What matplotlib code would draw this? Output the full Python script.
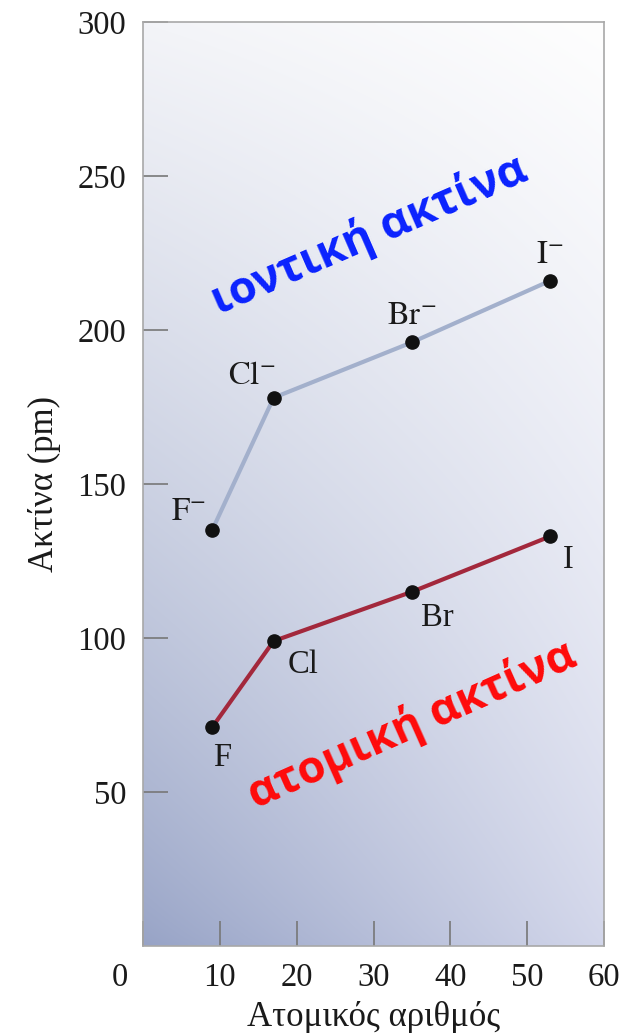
import numpy as np
import matplotlib
matplotlib.use("Agg")
import matplotlib.pyplot as plt
from matplotlib.transforms import ScaledTranslation

# Halogens: atomic number, ionic radius (X-) and atomic radius (X), in pm
atomic_number = [9, 17, 35, 53]
ionic_radius = [135, 178, 196, 216]
atomic_radius = [71, 99, 115, 133]
ion_labels = ["F", "Cl", "Br", "I"]
atom_labels = ["F", "Cl", "Br", "I"]

x_ticks = [0, 10, 20, 30, 40, 50, 60]
y_ticks = [50, 100, 150, 200, 250, 300]

plt.rcParams["font.family"] = ["Liberation Serif", "DejaVu Serif"]
plt.rcParams["mathtext.fontset"] = "stix"

fig = plt.figure(figsize=(6.25, 10.33), dpi=100)
ax = fig.add_axes([143 / 625, 87 / 1033, 461 / 625, 924 / 1033])

# Diagonal shaded background (light top-right, bluish bottom-left)
tl = np.array([0xF3, 0xF4, 0xF8]) / 255
tr = np.array([0xFE, 0xFE, 0xFE]) / 255
bl = np.array([0x97, 0xA3, 0xC6]) / 255
br = np.array([0xD2, 0xD6, 0xEA]) / 255
n = 256
u = np.linspace(0, 1, n)[None, :, None]
v = np.linspace(0, 1, n)[:, None, None] ** 0.8  # 0 at bottom
bottom = bl * (1 - u) + br * u
top = tl * (1 - u) + tr * u
grad = bottom * (1 - v) + top * v
ax.imshow(grad, extent=[0, 1, 0, 1], transform=ax.transAxes, origin="lower",
          aspect="auto", zorder=0, interpolation="bicubic")

ion_color = "#a3b0cc"
atom_color = "#a3283c"

ax.plot(atomic_number, ionic_radius, color=ion_color, lw=3, zorder=2,
        solid_capstyle="round")
ax.plot(atomic_number, atomic_radius, color=atom_color, lw=3, zorder=2,
        solid_capstyle="round")
ax.plot(atomic_number, ionic_radius, "o", color="#111111", ms=9.5, zorder=3)
ax.plot(atomic_number, atomic_radius, "o", color="#111111", ms=9.5, zorder=3)

# Point labels (offsets in points)
ion_offsets = [(-17, 13), (-16, 16), (0, 19), (0, 19)]
atom_offsets = [(7, -22), (21, -17), (18, -19), (13, -17)]
for xv, yv, lab, off in zip(atomic_number, ionic_radius, ion_labels, ion_offsets):
    ax.annotate(r"$\mathrm{%s}^{-}$" % lab, (xv, yv), xytext=off,
                textcoords="offset points", ha="center", va="center",
                fontsize=23.5, color="#1a1a1a", zorder=4)
for xv, yv, lab, off in zip(atomic_number, atomic_radius, atom_labels, atom_offsets):
    ax.annotate(lab, (xv, yv), xytext=off, textcoords="offset points",
                ha="center", va="center", fontsize=23.5, color="#1a1a1a", zorder=4)

# Series captions
cap_font = ["Open Sans", "DejaVu Sans"]
ax.text(0.492, 0.769, "ιοντική ακτίνα", transform=ax.transAxes, rotation=23.5,
        rotation_mode="anchor", ha="center", va="center", fontsize=32.5,
        fontweight="bold", family=cap_font, color="#0a22ff", zorder=5)
ax.text(0.583, 0.239, "ατομική ακτίνα", transform=ax.transAxes, rotation=24,
        rotation_mode="anchor", ha="center", va="center", fontsize=32.5,
        fontweight="bold", family=cap_font, color="#ff0a0a", zorder=5)

ax.set_xlim(0, 60)
ax.set_ylim(0, 300)
ax.set_xticks(x_ticks)
ax.set_yticks(y_ticks)
ax.set_xticklabels([str(t) for t in x_ticks])
ax.set_yticklabels([str(t) for t in y_ticks])
ax.tick_params(direction="in", length=18, width=1.2, color="#777777",
               labelsize=23.5, labelcolor="#1a1a1a", pad=12)

# Shift the origin label left of the frame
lab0 = ax.get_xticklabels()[0]
lab0.set_transform(lab0.get_transform() + ScaledTranslation(-0.23, 0, fig.dpi_scale_trans))

for s in ax.spines.values():
    s.set_color("#a8a8a8")
    s.set_linewidth(1.2)

ax.set_xlabel("Ατομικός αριθμός", fontsize=25, color="#1a1a1a", labelpad=6)
ax.set_ylabel("Ακτίνα (pm)", fontsize=25, color="#1a1a1a", labelpad=12)

fig.savefig("out.png", dpi=100, facecolor="white")
